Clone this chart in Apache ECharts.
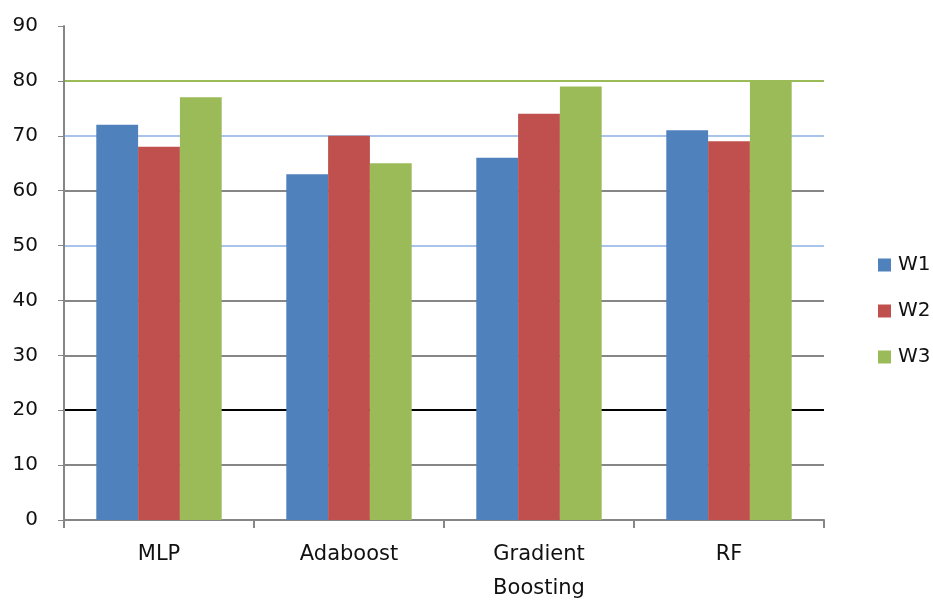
<!DOCTYPE html>
<html>
<head>
<meta charset="utf-8">
<script src="https://cdn.jsdelivr.net/npm/echarts@6/dist/echarts.min.js"></script>
<style>
  html, body { margin: 0; padding: 0; background: #fff; }
  #chart { width: 933px; height: 606px; }
</style>
</head>
<body>
<div id="chart"></div>
<script>
// Model accuracy per weighting scheme
const categories = ['MLP', 'Adaboost', 'Gradient\nBoosting', 'RF'];
const seriesNames = ['W1', 'W2', 'W3'];
const w1 = [72, 63, 66, 71];
const w2 = [68, 70, 74, 69];
const w3 = [77, 65, 79, 80];
const yTicks = { min: 0, max: 90, interval: 10 };

const colors = ['#4F81BD', '#C0504D', '#9BBB59'];
// gridline colours, one per level from 0 upwards
const gridColors = ['#868686', '#868686', '#000000', '#868686', '#868686',
                    '#A9C4EB', '#868686', '#A9C4EB', '#9BBB59', 'rgba(0,0,0,0)'];

const font = 'DejaVu Sans, sans-serif';
const chart = echarts.init(document.getElementById('chart'), null, { renderer: 'canvas', width: 933, height: 606 });

chart.setOption({
  backgroundColor: '#ffffff',
  animation: false,
  color: colors,
  grid: { left: 64, width: 760, top: 26, height: 496, containLabel: false },
  legend: {
    orient: 'vertical',
    left: 873,
    top: 250,
    itemWidth: 13,
    itemHeight: 13,
    itemGap: 26,
    icon: 'rect',
    textStyle: { fontFamily: font, fontSize: 20, color: '#111', padding: [0, 0, 0, 2] },
    data: seriesNames
  },
  xAxis: {
    type: 'category',
    data: categories,
    axisLine: { show: true, lineStyle: { color: '#868686', width: 2 } },
    axisTick: { show: true, length: 8, lineStyle: { color: '#868686', width: 2 } },
    axisLabel: {
      fontFamily: font, fontSize: 21, color: '#111',
      margin: 18, lineHeight: 34, interval: 0
    },
    splitLine: { show: false }
  },
  yAxis: {
    type: 'value',
    min: yTicks.min,
    max: yTicks.max,
    interval: yTicks.interval,
    axisLine: { show: true, lineStyle: { color: '#868686', width: 2 } },
    axisTick: { show: true, length: 6, inside: false, lineStyle: { color: '#868686' } },
    axisLabel: { fontFamily: font, fontSize: 20, color: '#111', margin: 26 },
    splitLine: { show: true, lineStyle: { color: gridColors, width: 2 } }
  },
  series: [
    { name: seriesNames[0], type: 'bar', data: w1, barGap: '0%', barCategoryGap: '34%' },
    { name: seriesNames[1], type: 'bar', data: w2, barGap: '0%', barCategoryGap: '34%' },
    { name: seriesNames[2], type: 'bar', data: w3, barGap: '0%', barCategoryGap: '34%' }
  ]
});
</script>
</body>
</html>
